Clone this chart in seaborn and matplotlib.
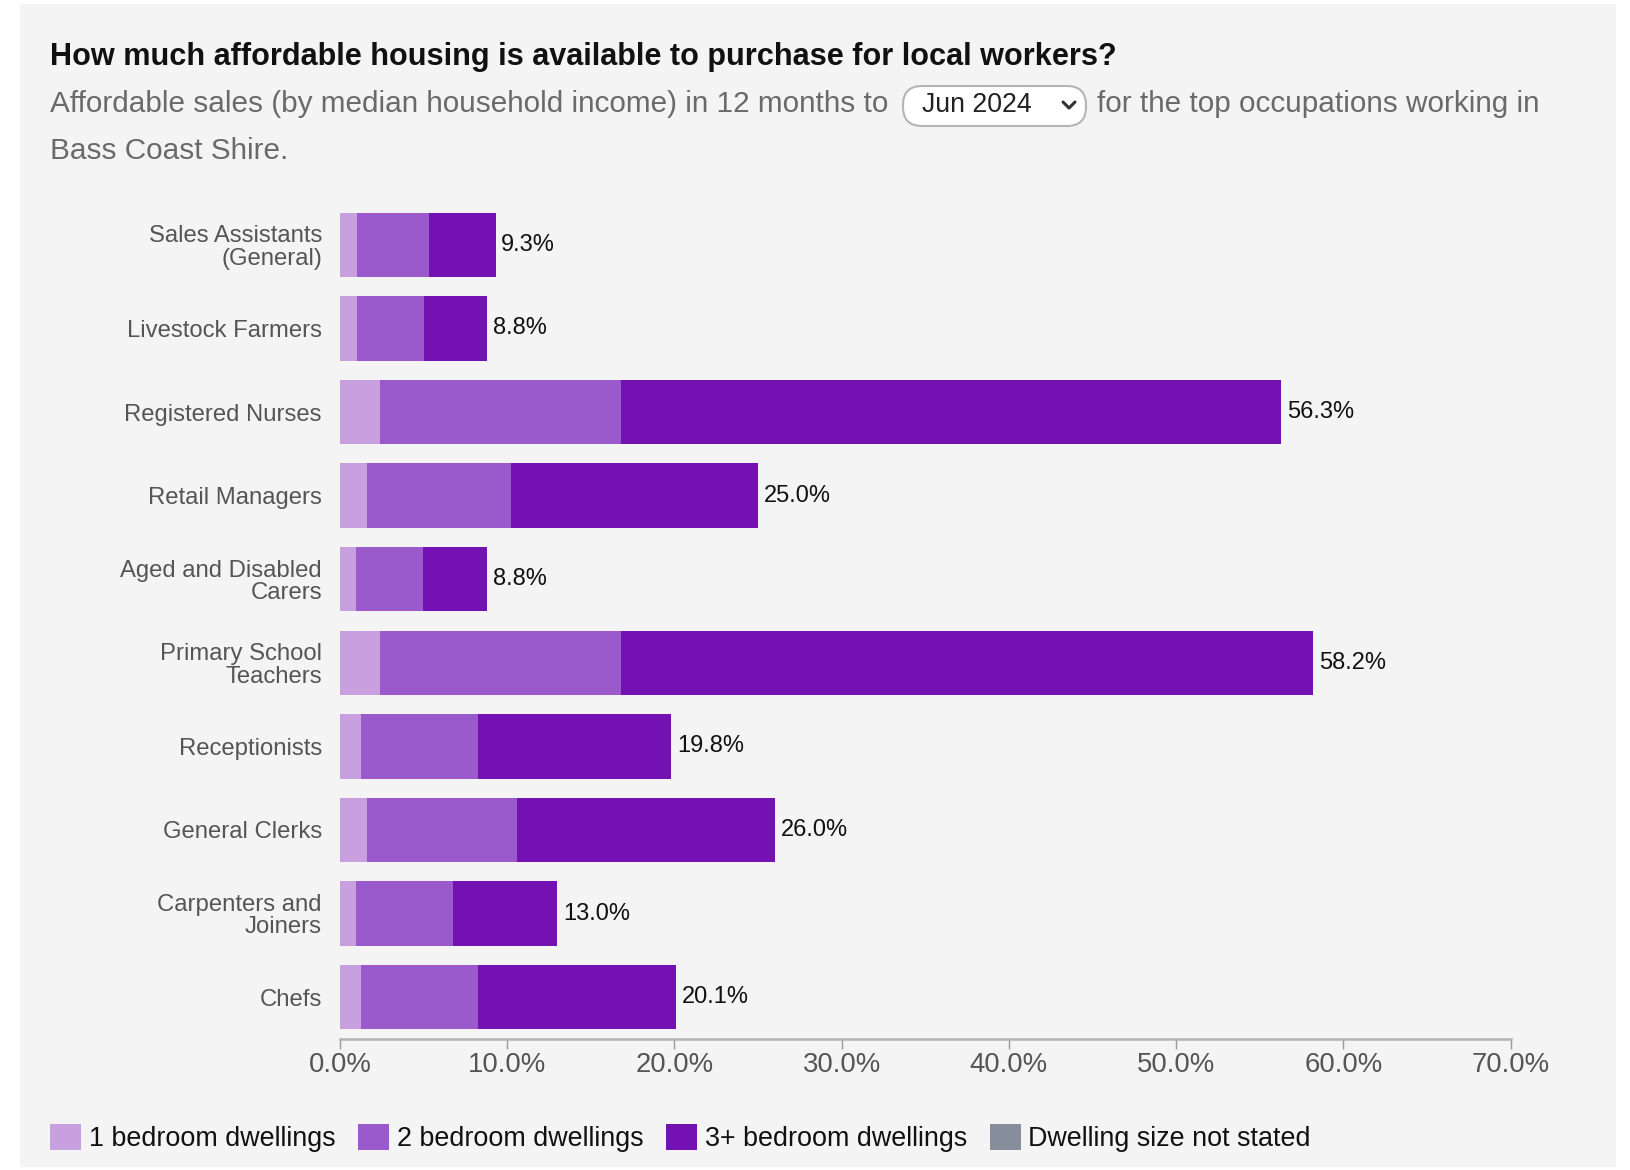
import matplotlib
matplotlib.use("Agg")
import matplotlib.pyplot as plt
import seaborn as sns
import numpy as np
import pandas as pd
from matplotlib.patches import Rectangle, FancyBboxPatch, Patch
from matplotlib.lines import Line2D
from matplotlib.transforms import IdentityTransform

# ---- data -------------------------------------------------------------
occupations = [
    "Sales Assistants (General)", "Livestock Farmers", "Registered Nurses",
    "Retail Managers", "Aged and Disabled Carers", "Primary School Teachers",
    "Receptionists", "General Clerks", "Carpenters and Joiners", "Chefs",
]
occupation_labels = [
    "Sales Assistants\n(General)", "Livestock Farmers", "Registered Nurses",
    "Retail Managers", "Aged and Disabled\nCarers", "Primary School\nTeachers",
    "Receptionists", "General Clerks", "Carpenters and\nJoiners", "Chefs",
]
one_bed = [1.0, 1.0, 2.4, 1.6, 0.95, 2.4, 1.25, 1.6, 0.95, 1.25]
two_bed = [4.3, 4.0, 14.4, 8.6, 4.0, 14.4, 7.0, 9.0, 5.8, 7.0]
three_plus_bed = [4.0, 3.8, 39.5, 14.8, 3.85, 41.4, 11.55, 15.4, 6.25, 11.85]
not_stated = [0.0] * 10

series_names = ["1 bedroom dwellings", "2 bedroom dwellings",
                "3+ bedroom dwellings", "Dwelling size not stated"]
series_colors = ["#c8a0df", "#9b5acb", "#7311b3", "#878e9b"]
x_ticks = [0, 10, 20, 30, 40, 50, 60, 70]

W, H = 1630, 1170

sns.set_theme(style="white")
plt.rcParams["font.family"] = ["Liberation Sans", "DejaVu Sans"]

fig = plt.figure(figsize=(W / 100, H / 100), dpi=100, facecolor="white")

# light grey card behind the whole chart
fig.add_artist(Rectangle((20 / W, 1 - 1167 / H), (1616 - 20) / W, (1167 - 4) / H,
                         transform=fig.transFigure, facecolor="#f4f4f4",
                         edgecolor="none", zorder=-5))

ax = fig.add_axes([340 / W, 1 - 1039 / H, (1510.5 - 340) / W, (1039 - 203) / H])
ax.set_facecolor("none")

df = pd.DataFrame({
    "occupation": occupations,
    "one": one_bed, "two": two_bed, "three": three_plus_bed, "ns": not_stated,
})
df["c1"] = df["one"]
df["c2"] = df["c1"] + df["two"]
df["c3"] = df["c2"] + df["three"]
df["c4"] = df["c3"] + df["ns"]

# stacked bars drawn as overlapping cumulative layers, widest first
for col, color in zip(["c4", "c3", "c2", "c1"], series_colors[::-1]):
    sns.barplot(data=df, x=col, y="occupation", order=occupations, orient="h",
                color=color, saturation=1, width=0.77, linewidth=0,
                errorbar=None, ax=ax)

for i, total in enumerate(df["c4"]):
    ax.text(total + 0.35, i, f"{total:.1f}%", va="center", ha="left",
            fontsize=17, color="#111111")

ax.set_xlim(0, 70)
ax.set_xticks(x_ticks)
ax.set_xticklabels([f"{t:.1f}%" for t in x_ticks])
ax.set_yticks(range(len(occupations)))
ax.set_yticklabels(occupation_labels, linespacing=1.02)
ax.set_xlabel("")
ax.set_ylabel("")
ax.tick_params(axis="x", which="major", bottom=True, length=7, width=1,
               color="#9a9a9a", labelsize=19.8, labelcolor="#555555", pad=2)
ax.tick_params(axis="y", length=0, labelsize=17.2, labelcolor="#555555", pad=13)
for side in ["top", "right", "left"]:
    ax.spines[side].set_visible(False)
ax.spines["bottom"].set_color("#b3b3b3")
ax.spines["bottom"].set_linewidth(1.8)
ax.grid(False)

# heading and sentence with the period selector
fig.text(50 / W, 1 - 57 / H,
         "How much affordable housing is available to purchase for local workers?",
         fontsize=22.1, fontweight="bold", color="#111111", va="center", ha="left")
fig.text(50 / W, 1 - 104 / H,
         "Affordable sales (by median household income) in 12 months to",
         fontsize=21.4, color="#6a6a6a", va="center", ha="left")
fig.text(1097 / W, 1 - 104 / H, "for the top occupations working in",
         fontsize=21.4, color="#6a6a6a", va="center", ha="left")
fig.text(50 / W, 1 - 151 / H, "Bass Coast Shire.",
         fontsize=21.4, color="#6a6a6a", va="center", ha="left")

box = FancyBboxPatch((903, H - 126), 183, 40,
                     boxstyle="round,pad=0,rounding_size=19",
                     transform=IdentityTransform(), facecolor="white",
                     edgecolor="#b5b5b5", linewidth=1.5, zorder=3)
fig.add_artist(box)
fig.text(922 / W, 1 - 105 / H, "Jun 2024", fontsize=19.2, color="#222222",
         va="center", ha="left", zorder=4)
fig.add_artist(Line2D([1063, 1069, 1075], [H - 102, H - 108, H - 102],
                      transform=IdentityTransform(), color="#333333",
                      linewidth=2.2, solid_capstyle="round", zorder=4))

handles = [Patch(facecolor=c, edgecolor="none") for c in series_colors]
fig.legend(handles, series_names, loc="center left",
           bbox_to_anchor=(50 / W, 1 - 1138 / H), ncol=4, frameon=False,
           fontsize=19.4, handlelength=1.15, handleheight=1.08,
           handletextpad=0.28, columnspacing=0.85, borderpad=0,
           borderaxespad=0, labelcolor="#111111")

fig.savefig("out.png", dpi=100, facecolor="white")
